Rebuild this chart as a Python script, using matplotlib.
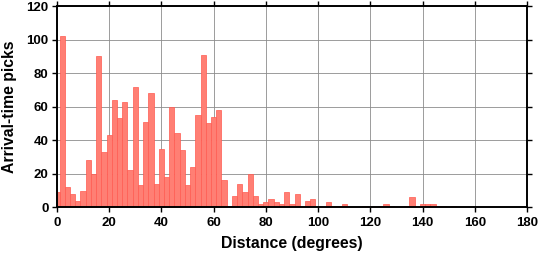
import matplotlib
matplotlib.use("Agg")
import matplotlib.pyplot as plt
import numpy as np

# histogram of arrival-time picks, 2-degree bins centred on even degrees
bin_centers = np.arange(0, 180, 2)
counts = [
    9, 102, 12, 8, 4, 10, 28, 20, 90, 33,      # 0-18
    43, 64, 53, 63, 22, 72, 13, 51, 68, 14,    # 20-38
    35, 18, 60, 44, 34, 13, 24, 55, 91, 50,    # 40-58
    54, 58, 16, 1, 7, 14, 9, 20, 7, 2,         # 60-78
    3, 5, 3, 2, 9, 2, 8, 1, 4, 5,              # 80-98
    0, 0, 3, 1, 1, 2, 0, 0, 0, 1,              # 100-118
    0, 0, 1, 2, 1, 0, 0, 1, 6, 0,              # 120-138
    2, 2, 2, 1, 1, 0, 1, 0, 0, 0,              # 140-158
    0, 0, 0, 0, 0, 0, 0, 0, 0, 0,              # 160-178
]
x_ticks = np.arange(0, 181, 20)
y_ticks = np.arange(0, 121, 20)

plt.rcParams["font.family"] = ["Liberation Sans", "DejaVu Sans"]
plt.rcParams["font.weight"] = "bold"

fig = plt.figure(figsize=(5.39, 2.58), dpi=100)
ax = fig.add_axes([0.1057, 0.1965, 0.8720, 0.7802])

ax.bar(bin_centers, counts, width=2, align="center",
       color="#FF7F74", edgecolor="#FF5A50", linewidth=0.5, zorder=2)

ax.set_xlim(0, 180)
ax.set_ylim(0, 120)
ax.set_xticks(x_ticks)
ax.set_yticks(y_ticks)
ax.set_axisbelow(True)
ax.grid(True, color="#8c8c8c", linewidth=0.6)

ax.tick_params(direction="out", length=3.5, width=1, labelsize=9.5,
               top=True, right=True)
ax.tick_params(axis="x", pad=3.5)
ax.tick_params(axis="y", pad=2.5)
for lbl in ax.get_xticklabels() + ax.get_yticklabels():
    lbl.set_fontweight("bold")
for sp in ax.spines.values():
    sp.set_linewidth(1.4)

ax.set_xlabel("Distance (degrees)", fontsize=11.4, fontweight="bold", labelpad=5)
ax.set_ylabel("Arrival-time picks", fontsize=11.3, fontweight="bold", labelpad=7)

fig.savefig("out.png", dpi=100)
